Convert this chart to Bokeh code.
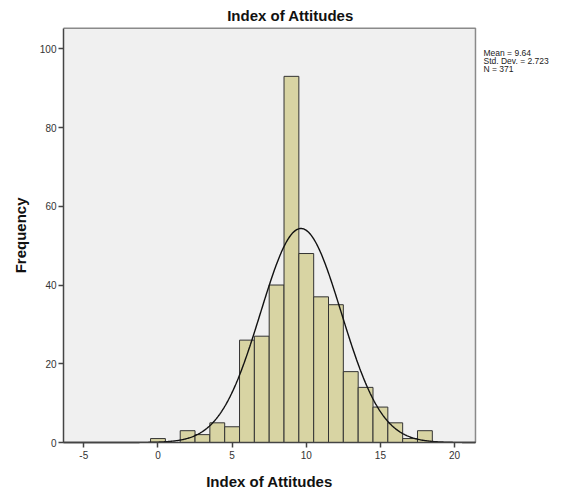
import numpy as np
from bokeh.plotting import figure
from bokeh.models import Range1d, Label, FixedTicker
from bokeh.embed import file_html
from bokeh.resources import INLINE

# ---- data ----
bin_centers = [0, 1, 2, 3, 4, 5, 6, 7, 8, 9, 10, 11, 12, 13, 14, 15, 16, 17, 18]
counts      = [1, 0, 3, 2, 5, 4, 26, 27, 40, 93, 48, 37, 35, 18, 14, 9, 5, 1, 3]
stat_mean = 9.64
stat_sd = 2.723
stat_n = 371
bin_width = 1.0
x_ticks = [-5, 0, 5, 10, 15, 20]
y_ticks = [0, 20, 40, 60, 80, 100]
title_text = "Index of Attitudes"
x_label = "Index of Attitudes"
y_label = "Frequency"

FONT = "Liberation Sans"

# visible plot-area limits (data units) and pixel geometry
XA, XB = -6.37, 21.41
YA, YB = 0.0, 105.2
PX_PER_X = 14.83
PX_PER_Y = 3.937
W, H = 568, 490
AREA_LEFT_PX, AREA_BOTTOM_PX = 63, 442


def dx(px):  # canvas x pixel -> data x
    return XA + (px - AREA_LEFT_PX) / PX_PER_X


def dy(py):  # canvas y pixel (from top) -> data y
    return YA + (AREA_BOTTOM_PX - py) / PX_PER_Y


p = figure(width=W, height=H, output_backend="svg", toolbar_location=None,
           x_range=Range1d(dx(0), dx(W)), y_range=Range1d(dy(H), dy(0)),
           min_border_left=0, min_border_right=0, min_border_top=0, min_border_bottom=0)

p.background_fill_color = "white"
p.border_fill_color = "white"
p.outline_line_color = None
p.xgrid.visible = False
p.ygrid.visible = False

# plot area background and top/right borders
p.quad(left=XA, right=XB, bottom=YA, top=YB, fill_color="#F0F0F0", line_color=None)
p.line([XA, XB, XB], [YB, YB, YA], line_color="#8a8a8a", line_width=1.5)

# bars
left = [c - bin_width / 2 for c in bin_centers]
right = [c + bin_width / 2 for c in bin_centers]
p.quad(left=left, right=right, bottom=0, top=counts,
       fill_color="#D8D4A3", line_color="#333333", line_width=1)

# normal curve from the stated statistics
xs = np.linspace(XA, XB, 600)
ys = stat_n * bin_width / (stat_sd * np.sqrt(2 * np.pi)) * np.exp(-0.5 * ((xs - stat_mean) / stat_sd) ** 2)
p.line(xs, ys, line_color="#111111", line_width=1.4)

# axes, fixed inside the canvas
for ax in (p.xaxis[0], p.yaxis[0]):
    ax.axis_line_color = "#444444"
    ax.axis_line_width = 1.5
    ax.major_tick_line_color = "#444444"
    ax.major_tick_line_width = 1.5
    ax.major_tick_in = 0
    ax.major_tick_out = 5
    ax.minor_tick_line_color = None
    ax.major_label_text_font = FONT
    ax.major_label_text_font_size = "10px"
    ax.major_label_text_color = "#333333"

p.xaxis.fixed_location = YA
p.yaxis.fixed_location = XA
p.xaxis.bounds = (XA, XB)
p.yaxis.bounds = (YA, YB)
p.xaxis.ticker = FixedTicker(ticks=x_ticks)
p.yaxis.ticker = FixedTicker(ticks=y_ticks)
p.xaxis.major_label_overrides = {t: str(t) for t in x_ticks}
p.xaxis.major_label_standoff = 3
p.yaxis.major_label_standoff = 2

# axis titles
p.add_layout(Label(x=(XA + XB) / 2, y=dy(481), text=x_label, text_align="center",
                   text_baseline="middle", text_font=FONT, text_font_size="15px",
                   text_font_style="bold", text_color="#111111"))
p.add_layout(Label(x=dx(20), y=(YA + YB) / 2, text=y_label, text_align="center",
                   text_baseline="middle", angle=np.pi / 2, text_font=FONT,
                   text_font_size="15px", text_font_style="bold", text_color="#111111"))

# chart title
p.add_layout(Label(x=dx(290), y=dy(15), text=title_text, text_align="center",
                   text_baseline="middle", text_font=FONT, text_font_size="15px",
                   text_font_style="bold", text_color="#111111"))

# statistics text
stat_lines = [f"Mean = {stat_mean}", f"Std. Dev. = {stat_sd}", f"N = {stat_n}"]
for i, t in enumerate(stat_lines):
    p.add_layout(Label(x=dx(483), y=dy(52 + 8 * i), text=t, text_align="left",
                       text_baseline="middle", text_font=FONT, text_font_size="8.5px",
                       text_color="#222222"))

open("out.html", "w").write(file_html(p, INLINE))
